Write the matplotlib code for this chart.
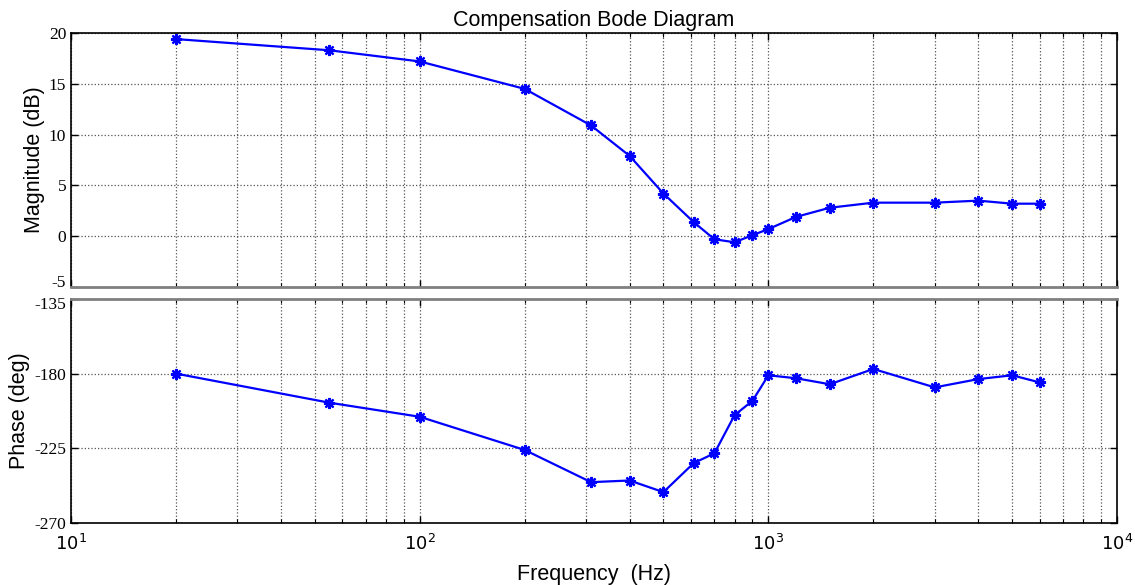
import numpy as np
import matplotlib
matplotlib.use("Agg")
import matplotlib.pyplot as plt
import matplotlib.transforms as mtransforms
from matplotlib.ticker import LogLocator, NullFormatter, FixedLocator

# measured compensation response
freq = [20, 55, 100, 200, 310, 400, 500, 610, 700, 800, 900, 1000,
        1200, 1500, 2000, 3000, 4000, 5000, 6000]
mag_db = [19.4, 18.3, 17.2, 14.5, 10.9, 7.9, 4.2, 1.4, -0.3, -0.6, 0.1, 0.7,
          1.9, 2.8, 3.3, 3.3, 3.5, 3.2, 3.2]
phase_deg = [-180.0, -197.5, -206.0, -226.0, -245.4, -244.4, -251.4, -234.0,
             -228.0, -205.0, -196.4, -181.0, -182.8, -186.4, -177.2, -188.3,
             -183.3, -181.0, -185.3]

mag_ticks = [-5, 0, 5, 10, 15, 20]
phase_ticks = [-270, -225, -180, -135]

plt.rcParams['mathtext.fontset'] = 'custom'
plt.rcParams['mathtext.rm'] = 'Liberation Serif'
plt.rcParams['mathtext.it'] = 'Liberation Serif'

tick_font = {'family': 'Liberation Serif', 'size': 12.5}
label_font = {'family': 'Liberation Sans', 'size': 15.5}

fig = plt.figure(figsize=(11.35, 5.85), dpi=100)
ax1 = fig.add_axes([0.0626, 0.5094, 0.9216, 0.4342])
ax2 = fig.add_axes([0.0626, 0.106, 0.9216, 0.383])

line_kw = dict(color='#0000ff', linewidth=1.6, marker=(8, 2, 0), markersize=8,
               markeredgewidth=1.6)

ax1.plot(freq, mag_db, **line_kw)
ax2.plot(freq, phase_deg, **line_kw)

for ax, ticks in ((ax1, mag_ticks), (ax2, phase_ticks)):
    ax.set_xscale('log')
    ax.set_xlim(10, 1e4)
    ax.set_ylim(ticks[0], ticks[-1])
    ax.yaxis.set_major_locator(FixedLocator(ticks))
    ax.xaxis.set_major_locator(LogLocator(base=10))
    ax.xaxis.set_minor_locator(LogLocator(base=10, subs=np.arange(2, 10)))
    ax.xaxis.set_minor_formatter(NullFormatter())
    ax.grid(True, which='major', axis='both', linestyle=':', color='#555555', linewidth=0.9)
    ax.grid(True, which='minor', axis='x', linestyle=':', color='#555555', linewidth=0.9)
    ax.tick_params(which='both', direction='in', top=True, right=True, color='black')
    ax.tick_params(which='major', length=5, width=1)
    ax.tick_params(which='minor', length=3, width=0.8)
    for s in ax.spines.values():
        s.set_linewidth(1.2)
        s.set_color('black')
    ax.set_axisbelow(True)

ax1.spines['bottom'].set_color('#808080')
ax1.spines['bottom'].set_linewidth(2)
ax2.spines['top'].set_color('#808080')
ax2.spines['top'].set_linewidth(2)

ax1.tick_params(axis='x', labelbottom=False)
ax1.set_yticklabels([str(t) for t in mag_ticks], fontdict=tick_font)
ax2.set_yticklabels([str(t) for t in phase_ticks], fontdict=tick_font)
for lab in ax2.get_xticklabels():
    lab.set_fontsize(13)
ax2.tick_params(axis='x', pad=8)

# the two labels at the gap between the panels sit close together, nudge them apart
lab_low = ax1.get_yticklabels()[0]
lab_low.set_transform(lab_low.get_transform() + mtransforms.ScaledTranslation(0, 4 / 72, fig.dpi_scale_trans))
lab_top = ax2.get_yticklabels()[-1]
lab_top.set_transform(lab_top.get_transform() + mtransforms.ScaledTranslation(0, -3 / 72, fig.dpi_scale_trans))

ax1.set_ylabel('Magnitude (dB)', fontdict=label_font, labelpad=3)
ax2.set_ylabel('Phase (deg)', fontdict=label_font, labelpad=3)
ax2.set_xlabel('Frequency  (Hz)', fontdict=label_font, labelpad=7)
ax1.set_title('Compensation Bode Diagram', fontdict={'family': 'Liberation Sans', 'size': 15.5}, pad=5)

fig.savefig('out.png', dpi=100)
